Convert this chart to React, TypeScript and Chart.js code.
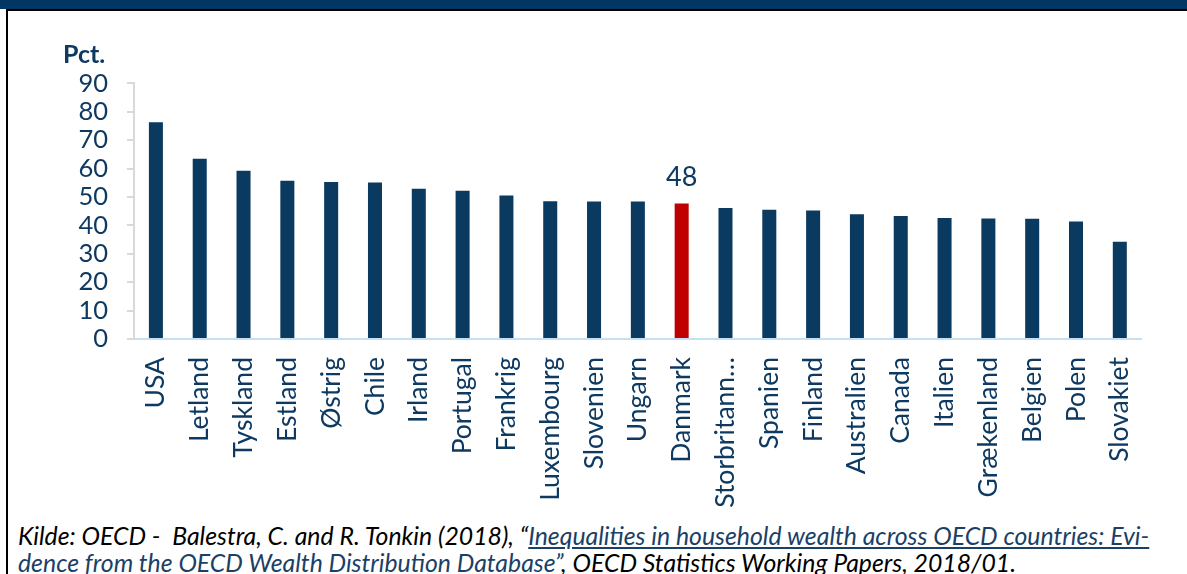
import React, { useEffect, useRef } from "react";
import { Chart, registerables } from "chart.js";

Chart.register(...registerables);

const categories = [
  "USA", "Letland", "Tyskland", "Estland", "Østrig", "Chile", "Irland", "Portugal",
  "Frankrig", "Luxembourg", "Slovenien", "Ungarn", "Danmark", "Storbritannien",
  "Spanien", "Finland", "Australien", "Canada", "Italien", "Grækenland", "Belgien",
  "Polen", "Slovakiet",
];
const values = [
  76.3, 63.4, 59.2, 55.7, 55.3, 55.1, 52.9, 52.2,
  50.5, 48.5, 48.4, 48.4, 47.7, 46.1,
  45.5, 45.2, 43.9, 43.3, 42.6, 42.4, 42.3,
  41.4, 34.2,
];
const highlightCategory = "Danmark";
const yMin = 0;
const yMax = 90;
const yStep = 10;
const yTitle = "Pct.";

const NAVY = "#0a3a5f";
const TEXT = "#0e3a62";
const RED = "#c00000";

const valueLabelPlugin = {
  id: "valueLabel",
  afterDatasetsDraw(chart: any) {
    const idx = categories.indexOf(highlightCategory);
    if (idx < 0) return;
    const meta = chart.getDatasetMeta(0);
    const el = meta.data[idx];
    if (!el) return;
    const ctx = chart.ctx;
    ctx.save();
    ctx.font = "27px Lato";
    ctx.fillStyle = TEXT;
    ctx.textAlign = "center";
    ctx.textBaseline = "alphabetic";
    ctx.fillText(String(Math.round(values[idx])), el.x, el.y - 17);
    ctx.restore();
  },
};

export default function App() {
  const ref = useRef<HTMLCanvasElement | null>(null);

  useEffect(() => {
    if (!ref.current) return;
    const colors = categories.map((c) => (c === highlightCategory ? RED : NAVY));
    const chart = new Chart(ref.current, {
      type: "bar",
      data: {
        labels: categories,
        datasets: [
          {
            data: values,
            backgroundColor: colors,
            borderWidth: 0,
            barPercentage: 0.32,
            categoryPercentage: 1,
          },
        ],
      },
      options: {
        animation: false,
        responsive: false,
        devicePixelRatio: 1,
        layout: { padding: { top: 0, right: 18, left: 0, bottom: 0 } },
        plugins: {
          legend: { display: false },
          tooltip: { enabled: false },
        },
        scales: {
          x: {
            afterFit(scale: any) {
              scale.height = 181;
            },
            grid: { display: true, drawOnChartArea: false, drawTicks: false },
            border: { display: true, color: "#c5dff3", width: 2 },
            ticks: {
              autoSkip: false,
              maxRotation: 90,
              minRotation: 90,
              padding: 18,
              color: TEXT,
              font: { family: "Lato", size: 26.5 },
              callback(_v: any, i: number) {
                const l = categories[i];
                return l.length > 12 ? l.slice(0, 11) + "…" : l;
              },
            },
          },
          y: {
            min: yMin,
            max: yMax,
            afterFit(scale: any) {
              scale.width = 124;
            },
            grid: {
              display: true,
              drawOnChartArea: false,
              drawTicks: true,
              tickLength: 7,
              color: "#d9d9d9",
              lineWidth: 2,
            },
            border: { display: true, color: "#d9d9d9", width: 2 },
            ticks: {
              stepSize: yStep,
              autoSkip: false,
              padding: 19,
              color: TEXT,
              font: { family: "Lato", size: 25.5 },
            },
          },
        },
      },
      plugins: [valueLabelPlugin],
    });
    return () => chart.destroy();
  }, []);

  return (
    <div
      style={{
        position: "fixed",
        left: 0,
        top: 0,
        width: 1187,
        height: 574,
        overflow: "hidden",
        background: "#ffffff",
      }}
    >
      <div style={{ position: "absolute", left: 0, top: 0, width: 1187, height: 9, background: "#003764" }} />
      <div
        style={{
          position: "absolute",
          left: 6,
          top: 9,
          width: 1300,
          height: 700,
          borderLeft: "2px solid #000",
          borderTop: "2px solid #000",
        }}
      />
      <canvas
        ref={ref}
        width={1160}
        height={471}
        style={{ position: "absolute", left: 10, top: 49, width: 1160, height: 471 }}
      />
      <div
        style={{
          position: "absolute",
          left: 63,
          top: 38,
          fontFamily: "Lato",
          fontWeight: 700,
          fontSize: 25,
          color: TEXT,
          lineHeight: "30px",
        }}
      >
        {yTitle}
      </div>
      <div
        style={{
          position: "absolute",
          left: 18,
          top: 522,
          fontFamily: "Lato",
          fontStyle: "italic",
          fontSize: 24.8,
          lineHeight: "27px",
          color: "#000",
          whiteSpace: "nowrap",
        }}
      >
        <div>
          Kilde: OECD -&nbsp; Balestra, C. and R. Tonkin (2018), “
          <span style={{ color: "#1b3f66", textDecoration: "underline" }}>
            Inequalities in household wealth across OECD countries: Evi-
          </span>
        </div>
        <div>
          <span style={{ color: "#1b3f66", textDecoration: "underline" }}>
            dence from the OECD Wealth Distribution Database”
          </span>
          , OECD Statistics Working Papers, 2018/01.
        </div>
      </div>
    </div>
  );
}
